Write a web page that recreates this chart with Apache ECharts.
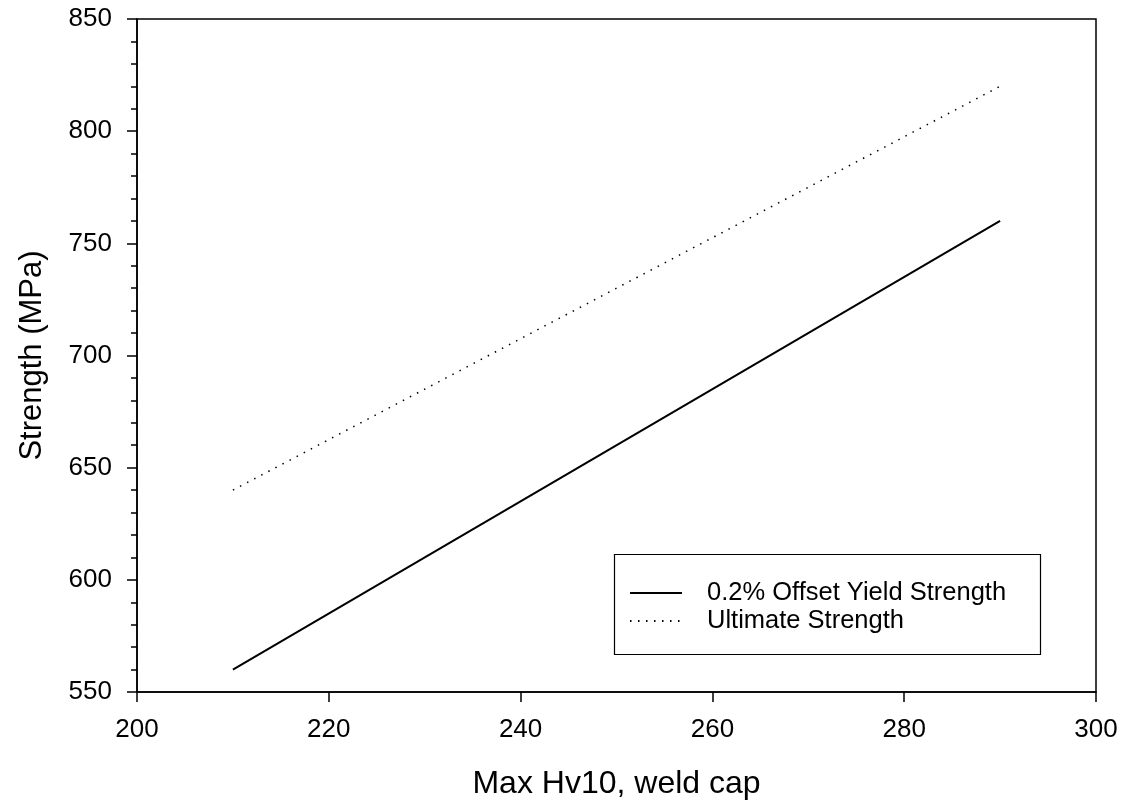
<!DOCTYPE html>
<html>
<head>
<meta charset="utf-8">
<script src="https://cdn.jsdelivr.net/npm/echarts@6/dist/echarts.min.js"></script>
<style>html,body{margin:0;padding:0;background:#fff;}#c{width:1123px;height:808px;}</style>
</head>
<body>
<div id="c"></div>
<script>
const seriesNames = ['0.2% Offset Yield Strength', 'Ultimate Strength'];
const hardness = [210, 290];
const yieldStrength = [560, 760];
const ultimateStrength = [640, 820];
const xTicks = [200, 220, 240, 260, 280, 300];
const yTicks = [550, 600, 650, 700, 750, 800, 850];

const font = '"Liberation Sans", Arial, sans-serif';
const chart = echarts.init(document.getElementById('c'));
chart.setOption({
  backgroundColor: '#fff',
  animation: false,
  grid: {left: 137, right: 27, top: 19, bottom: 116, containLabel: false, outerBoundsMode: 'none',
         show: true, borderColor: '#000', borderWidth: 1.5, backgroundColor: 'transparent'},
  xAxis: {
    type: 'value', min: xTicks[0], max: xTicks[xTicks.length-1], interval: 20,
    name: 'Max Hv10, weld cap', nameLocation: 'middle', nameGap: 76,
    nameTextStyle: {fontFamily: font, fontSize: 32, color: '#000'},
    axisLine: {lineStyle: {color: '#000', width: 1.5}},
    axisTick: {inside: false, length: 10, lineStyle: {color: '#000', width: 1.5}},
    axisLabel: {fontFamily: font, fontSize: 26, color: '#000', margin: 25},
    splitLine: {show: false}
  },
  yAxis: {
    type: 'value', min: yTicks[0], max: yTicks[yTicks.length-1], interval: 50,
    name: 'Strength (MPa)', nameLocation: 'middle', nameGap: 89,
    nameTextStyle: {fontFamily: font, fontSize: 31, color: '#000'},
    axisLine: {lineStyle: {color: '#000', width: 1.5}},
    axisTick: {inside: false, length: 10, lineStyle: {color: '#000', width: 1.5}},
    minorTick: {show: true, splitNumber: 5, length: 6, lineStyle: {color: '#000', width: 1.5}},
    axisLabel: {fontFamily: font, fontSize: 26, color: '#000', margin: 25},
    splitLine: {show: false}
  },
  legend: {
    orient: 'vertical', left: 624, top: 575,
    itemWidth: 52, itemHeight: 14, itemGap: 2,
    itemStyle: {opacity: 0},
    textStyle: {fontFamily: font, fontSize: 25.5, color: '#000', padding: [0,0,0,20]},
    data: seriesNames,
    selectedMode: false
  },
  graphic: [{
    type: 'rect', left: 612, top: 552, z: 100,
    shape: {width: 426, height: 100},
    style: {fill: 'none', stroke: '#000', lineWidth: 1.2}
  }],
  series: [
    {name: seriesNames[0], type: 'line', symbol: 'none', data: hardness.map((h,i)=>[h, yieldStrength[i]]),
     lineStyle: {color: '#000', width: 2, type: 'solid'}, itemStyle: {color: '#000'}},
    {name: seriesNames[1], type: 'line', symbol: 'none', data: hardness.map((h,i)=>[h, ultimateStrength[i]]),
     lineStyle: {color: '#000', width: 1.5, type: [1.5, 6.5]}, itemStyle: {color: '#000'}}
  ]
});
</script>
</body>
</html>
